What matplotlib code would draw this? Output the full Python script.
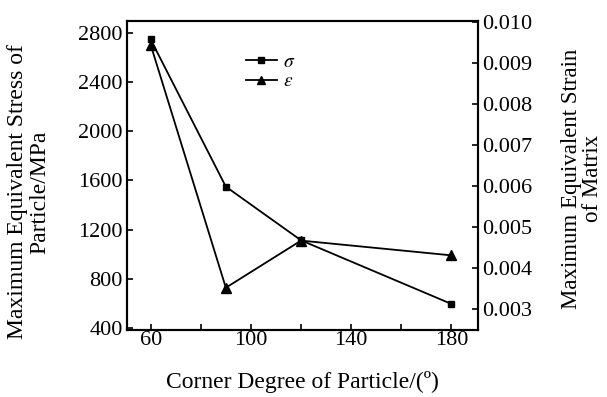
import matplotlib
matplotlib.use("Agg")
import matplotlib.pyplot as plt
from matplotlib.ticker import MultipleLocator

plt.rcParams['font.family'] = ['Liberation Serif', 'DejaVu Serif']
plt.rcParams['mathtext.fontset'] = 'stix'

angles = [60, 90, 120, 180]
stress = [2745, 1549, 1113, 596]
strain = [0.00945, 0.00352, 0.00467, 0.00431]

xticks = [60, 100, 140, 180]
yticks_left = [400, 800, 1200, 1600, 2000, 2400, 2800]
yticks_right = [0.003, 0.004, 0.005, 0.006, 0.007, 0.008, 0.009, 0.010]

fig = plt.figure(figsize=(6.07, 3.97), dpi=100)
ax = fig.add_axes([0.209, 0.169, 0.578, 0.778])
ax2 = ax.twinx()

l1, = ax.plot(angles, stress, color='black', lw=1.3, marker='s', ms=5, label=r'$\sigma$')
l2, = ax2.plot(angles, strain, color='black', lw=1.3, marker='^', ms=6.5, label=r'$\varepsilon$')

ax.set_xlim(50.5, 190.5)
ax.set_ylim(385, 2895)
ax2.set_ylim(0.00249, 0.01003)

ax.set_xticks(xticks)
ax.xaxis.set_minor_locator(MultipleLocator(20))
ax.set_yticks(yticks_left)
ax2.set_yticks(yticks_right)
ax2.set_yticklabels([f"{v:.3f}" for v in yticks_right])

fs = 16
ax.tick_params(axis='x', which='both', direction='in', length=4, width=1.2, labelsize=fs, pad=1)
ax.tick_params(axis='y', direction='in', length=4, width=1.2, labelsize=fs, pad=3)
ax2.tick_params(axis='y', direction='in', length=4, width=1.2, labelsize=fs, pad=3)
for a in (ax, ax2):
    for s in a.spines.values():
        s.set_linewidth(1.5)

lfs = 17
ax.set_xlabel('Corner Degree of Particle/(º)', fontsize=lfs, labelpad=15)
ax.set_ylabel('Maximum Equivalent Stress of\nParticle/MPa', fontsize=lfs, linespacing=1.05)
ax2.set_ylabel('Maximum Equivalent Strain\nof Matrix', fontsize=16.5, rotation=90, linespacing=1.0)
ax.yaxis.set_label_coords(-0.219, 0.447)
ax2.yaxis.set_label_coords(1.238, 0.489)

leg = ax.legend(handles=[l1, l2], loc='upper left', bbox_to_anchor=(0.3, 0.94), frameon=False,
                fontsize=14, handlelength=1.6, handletextpad=0.3, labelspacing=0.1, borderpad=0.2,
                markerscale=0.9)

fig.savefig('out.png', dpi=100)
